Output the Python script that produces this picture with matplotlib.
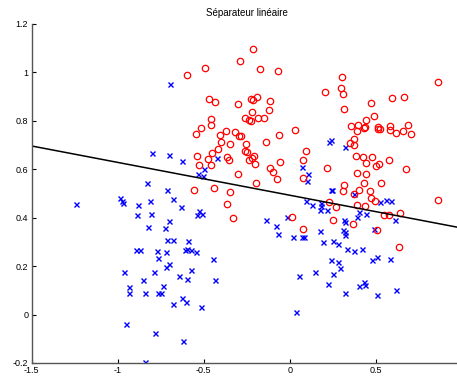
import matplotlib
matplotlib.use("Agg")
import matplotlib.pyplot as plt
from matplotlib.ticker import FuncFormatter
import numpy as np

# classe +1 (cercles rouges)
red_x = [-0.599, -0.493, -0.470, -0.437, -0.456, -0.460, -0.516, -0.215, -0.290, -0.172,
         -0.070, 0.304, 0.298, 0.307, 0.203, 0.316, -0.303, -0.224, -0.216, -0.193,
         -0.116, -0.218, -0.122, -0.259, -0.236, -0.226, -0.187, -0.153, 0.859, 0.594,
         0.660, 0.470, 0.487, 0.443, 0.354, 0.393, 0.435, 0.513, 0.584, 0.687,
         -0.543, -0.408, -0.369, -0.400, -0.350, -0.418, -0.454, -0.539, -0.476, -0.528,
         -0.460, -0.365, -0.354, -0.555, -0.441, -0.350, -0.365, -0.330, -0.319, -0.298,
         -0.284, -0.253, -0.259, -0.247, -0.207, -0.220, -0.236, -0.201, -0.137, -0.062,
         0.029, -0.060, -0.114, -0.100, -0.073, 0.093, 0.078, 0.078, 0.215, -0.303,
         -0.197, 0.014, 0.078, 0.228, 0.269, 0.249, 0.316, 0.306, 0.389, 0.433,
         0.514, 0.521, 0.584, 0.615, 0.658, 0.702, 0.371, 0.348, 0.375, 0.385,
         0.426, 0.476, 0.441, 0.499, 0.519, 0.574, 0.675, 0.387, 0.443, 0.433,
         0.532, 0.404, 0.374, 0.466, 0.472, 0.493, 0.861, 0.387, 0.435, 0.545,
         0.574, 0.640, 0.369, 0.507, 0.631]
red_y = [0.988, 1.016, 0.890, 0.879, 0.809, 0.781, 0.770, 1.095, 1.046, 1.012,
         1.006, 0.981, 0.936, 0.910, 0.919, 0.848, 0.870, 0.890, 0.886, 0.900,
         0.881, 0.837, 0.843, 0.812, 0.805, 0.800, 0.813, 0.813, 0.961, 0.895,
         0.900, 0.872, 0.821, 0.802, 0.777, 0.781, 0.775, 0.773, 0.780, 0.781,
         0.747, 0.743, 0.758, 0.714, 0.703, 0.682, 0.667, 0.653, 0.641, 0.619,
         0.618, 0.651, 0.640, 0.513, 0.523, 0.506, 0.458, 0.397, 0.753, 0.738,
         0.736, 0.706, 0.674, 0.673, 0.655, 0.645, 0.637, 0.620, 0.713, 0.743,
         0.760, 0.630, 0.604, 0.589, 0.558, 0.674, 0.638, 0.562, 0.604, 0.579,
         0.542, 0.401, 0.353, 0.463, 0.444, 0.390, 0.533, 0.509, 0.758, 0.771,
         0.765, 0.765, 0.761, 0.750, 0.758, 0.747, 0.725, 0.709, 0.700, 0.655,
         0.652, 0.651, 0.627, 0.612, 0.620, 0.637, 0.602, 0.586, 0.579, 0.542,
         0.543, 0.516, 0.498, 0.510, 0.483, 0.467, 0.472, 0.451, 0.448, 0.411,
         0.410, 0.421, 0.372, 0.349, 0.280]

# classe -1 (croix bleues)
blue_x = [-0.698, -1.245, -0.802, -0.705, -0.628, -0.425, -0.497, -0.534, -0.506, -0.831,
          -0.715, -0.986, -0.975, -0.969, -0.880, -0.810, -0.680, -0.630, -0.530, -0.541,
          -0.510, -0.889, -0.806, -0.700, -0.827, -0.727, -0.715, -0.679, -0.592, -0.893,
          -0.870, -0.775, -0.719, -0.611, -0.597, -0.576, -0.545, -0.767, -0.447, -0.965,
          -0.791, -0.700, -0.719, -0.576, -0.647, -0.597, -0.433, -0.856, -0.737, -0.936,
          -0.932, -0.843, -0.769, -0.746, -0.626, -0.601, -0.682, -0.518, -0.951, -0.781,
          -0.621, -0.843, 0.227, 0.240, 0.319, 0.068, 0.108, 0.097, 0.236, 0.244,
          0.095, 0.126, 0.182, 0.178, 0.213, 0.172, -0.141, -0.019, -0.083, -0.071,
          0.016, 0.070, 0.083, 0.176, 0.191, 0.253, 0.281, 0.316, 0.323, 0.308,
          0.323, 0.323, 0.374, 0.526, 0.559, 0.588, 0.400, 0.441, 0.391, 0.609,
          0.486, 0.333, 0.371, 0.416, 0.478, 0.505, 0.584, 0.292, 0.399, 0.428,
          0.435, 0.319, 0.507, 0.619, 0.236, 0.279, 0.050, 0.143, 0.253, 0.219,
          0.033]
blue_y = [0.952, 0.458, 0.669, 0.659, 0.633, 0.648, 0.601, 0.579, 0.572, 0.545,
          0.514, 0.483, 0.467, 0.461, 0.452, 0.470, 0.476, 0.445, 0.428, 0.411,
          0.415, 0.412, 0.415, 0.385, 0.361, 0.356, 0.308, 0.306, 0.302, 0.268,
          0.268, 0.262, 0.258, 0.265, 0.271, 0.265, 0.257, 0.235, 0.228, 0.177,
          0.174, 0.210, 0.198, 0.184, 0.159, 0.147, 0.143, 0.144, 0.119, 0.112,
          0.091, 0.091, 0.091, 0.087, 0.069, 0.050, 0.042, 0.031, -0.041, -0.076,
          -0.111, -0.194, 0.712, 0.722, 0.692, 0.608, 0.580, 0.552, 0.514, 0.514,
          0.467, 0.452, 0.461, 0.450, 0.433, 0.430, 0.392, 0.404, 0.364, 0.334,
          0.321, 0.321, 0.320, 0.345, 0.298, 0.305, 0.290, 0.392, 0.381, 0.348,
          0.339, 0.328, 0.496, 0.465, 0.472, 0.470, 0.425, 0.414, 0.404, 0.392,
          0.353, 0.272, 0.264, 0.269, 0.224, 0.238, 0.228, 0.192, 0.118, 0.133,
          0.120, 0.087, 0.079, 0.100, 0.224, 0.217, 0.160, 0.177, 0.169, 0.126,
          0.010]

# séparateur : w1*x + w2*y + b = 0
w = [0.1356, 1.0]
b = -0.4926

x_ticks = [-1.5, -1, -0.5, 0, 0.5]
y_ticks = [-0.2, 0, 0.2, 0.4, 0.6, 0.8, 1, 1.2]

plt.rcParams['font.family'] = ['Liberation Sans', 'DejaVu Sans']
plt.rcParams['axes.unicode_minus'] = False

fig = plt.figure(figsize=(4.57, 3.78), dpi=100)
ax = fig.add_axes([0.0694, 0.0397, 0.9416, 0.897])

ax.plot(blue_x, blue_y, 'x', color='#0000ff', ms=3.6, mew=1.0)
ax.plot(red_x, red_y, 'o', mfc='none', mec='#ff0000', ms=4.6, mew=0.9)

xl = np.array([-1.5, 1.0])
ax.plot(xl, -(w[0] * xl + b) / w[1], color='black', lw=1.1)

ax.set_xlim(-1.5, 1.0)
ax.set_ylim(-0.2, 1.2)
ax.set_xticks(x_ticks)
ax.set_yticks(y_ticks)
fmt = FuncFormatter(lambda v, p: '%g' % round(v, 2))
ax.xaxis.set_major_formatter(fmt)
ax.yaxis.set_major_formatter(fmt)
ax.tick_params(direction='in', length=3, width=0.8, labelsize=6.5, pad=2.5)

for s in ['top', 'right']:
    ax.spines[s].set_visible(False)
for s in ['left', 'bottom']:
    ax.spines[s].set_color('#555555')
    ax.spines[s].set_linewidth(1.0)

ax.set_title("Séparateur linéaire", fontsize=7, pad=6)

fig.savefig("out.png", dpi=100)
